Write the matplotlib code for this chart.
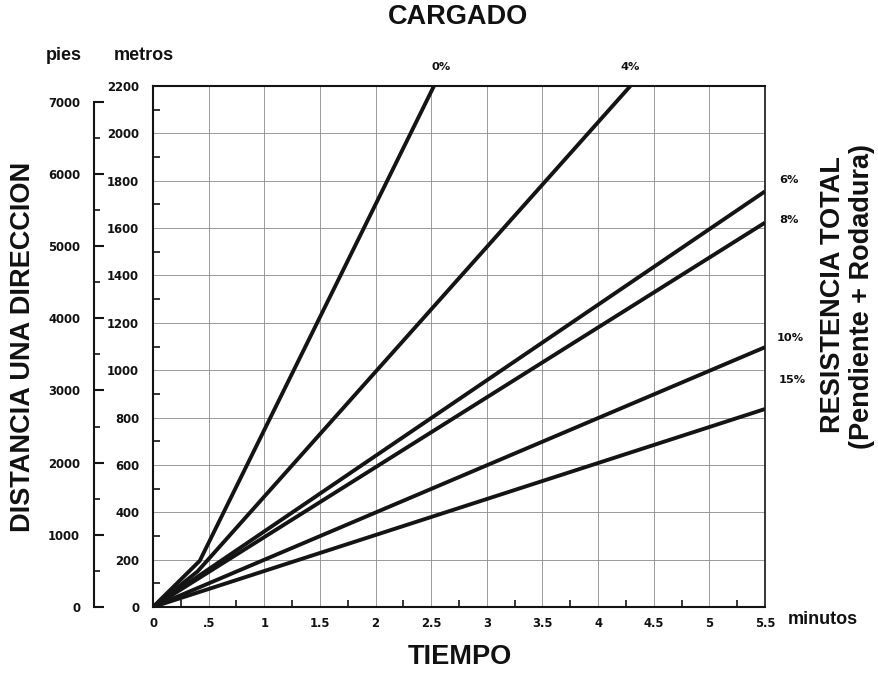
import matplotlib
matplotlib.use("Agg")
import matplotlib.pyplot as plt
from matplotlib.ticker import FixedLocator, FixedFormatter, MultipleLocator

# ---------------- data ----------------
grades = ["0%", "4%", "6%", "8%", "10%", "15%"]
# time (minutes) / distance (metres) points of each curve
t_0 = [0, 0.42, 2.525]
d_0 = [0, 195, 2200]
t_4 = [0, 0.40, 4.29]
d_4 = [0, 150, 2200]
t_6 = [0, 5.5]
d_6 = [0, 1755]
t_8 = [0, 5.5]
d_8 = [0, 1623]
t_10 = [0, 5.5]
d_10 = [0, 1097]
t_15 = [0, 5.5]
d_15 = [0, 836]

x_ticks = [0, 0.5, 1, 1.5, 2, 2.5, 3, 3.5, 4, 4.5, 5, 5.5]
x_tick_labels = ["0", ".5", "1", "1.5", "2", "2.5", "3", "3.5", "4", "4.5", "5", "5.5"]
m_ticks = [0, 200, 400, 600, 800, 1000, 1200, 1400, 1600, 1800, 2000, 2200]
ft_ticks = [0, 1000, 2000, 3000, 4000, 5000, 6000, 7000]

# ---------------- layout ----------------
W, H = 879, 674
fig = plt.figure(figsize=(W / 100, H / 100), dpi=100)


def fx(x):
    return x / W


def fy(y):
    return 1 - y / H


L, R, T, B = 153, 765, 86, 607
ax = fig.add_axes([fx(L), fy(B), (R - L) / W, (B - T) / H])
ax.set_xlim(0, 5.5)
ax.set_ylim(0, 2200)

lc = "#141414"
lw = 2.8
curves = [(t_0, d_0), (t_4, d_4), (t_6, d_6), (t_8, d_8), (t_10, d_10), (t_15, d_15)]
for t, d in curves:
    ax.plot(t, d, color=lc, lw=lw, solid_capstyle="butt", solid_joinstyle="round",
            clip_on=True, zorder=3)

# grid
for xv in x_ticks[1:-1]:
    ax.axvline(xv, color="#8a8a8a", lw=0.6, zorder=1)
for yv in m_ticks[1:-1]:
    ax.axhline(yv, color="#8a8a8a", lw=0.6, zorder=1)

# spines
for s in ["left", "bottom", "top"]:
    ax.spines[s].set_linewidth(1.5)
    ax.spines[s].set_color(lc)
ax.spines["right"].set_linewidth(1.2)
ax.spines["right"].set_color(lc)

ax.xaxis.set_major_locator(FixedLocator(x_ticks))
ax.xaxis.set_major_formatter(FixedFormatter(x_tick_labels))
ax.xaxis.set_minor_locator(MultipleLocator(0.25))
ax.yaxis.set_major_locator(FixedLocator(m_ticks))
ax.yaxis.set_minor_locator(MultipleLocator(100))
ax.tick_params(axis="x", which="major", direction="in", length=0, pad=7)
ax.tick_params(axis="x", which="minor", direction="in", length=5, width=1.2, color=lc)
ax.tick_params(axis="y", which="major", direction="in", length=0, pad=10)
ax.tick_params(axis="y", which="minor", direction="in", length=5, width=1.2, color=lc)
for lab in ax.get_xticklabels() + ax.get_yticklabels():
    lab.set_fontfamily("DejaVu Sans")
    lab.set_fontweight("bold")
    lab.set_fontsize(8.4)
    lab.set_color("#111111")

# feet axis
FT = 0.3048
axf = fig.add_axes([fx(94), fy(B), 0.0001, (B - T) / H])
axf.set_ylim(0, 2200 / FT)
axf.set_xticks([])
for s in ["right", "top", "bottom"]:
    axf.spines[s].set_visible(False)
axf.spines["left"].set_linewidth(1.5)
axf.spines["left"].set_color(lc)
axf.spines["left"].set_bounds(0, 7000)
axf.yaxis.set_major_locator(FixedLocator(ft_ticks))
axf.yaxis.set_minor_locator(FixedLocator([v + 500 for v in ft_ticks[:-1]]))
axf.tick_params(axis="y", which="major", direction="in", length=7, width=1.5, color=lc, pad=10)
axf.tick_params(axis="y", which="minor", direction="in", length=4, width=1.2, color=lc)
for lab in axf.get_yticklabels():
    lab.set_fontfamily("DejaVu Sans")
    lab.set_fontweight("bold")
    lab.set_fontsize(8.4)
    lab.set_color("#111111")
axf.patch.set_visible(False)

# grade labels
grade_pos = [(441, 67), (630, 67), (789, 180), (789, 220), (790, 338), (792, 380)]
for g, (px, py) in zip(grades, grade_pos):
    fig.text(fx(px), fy(py), g, ha="center", va="center",
             family="DejaVu Sans", weight="bold", size=8.2, color="#111111")

big = dict(family="Liberation Sans", weight="bold", size=19.5, color="#111111")
fig.text(fx(458), fy(17), "CARGADO", ha="center", va="center", **big)
fig.text(fx(460), fy(657), "TIEMPO", ha="center", va="center", **big)
fig.text(fx(23), fy(347), "DISTANCIA UNA DIRECCION", ha="center", va="center", rotation=90, **big)
fig.text(fx(833), fy(295), "RESISTENCIA TOTAL", ha="center", va="center", rotation=90, **big)
fig.text(fx(862), fy(297), "(Pendiente + Rodadura)", ha="center", va="center", rotation=90, **big)

small = dict(family="Liberation Sans", weight="bold", size=13, color="#111111")
fig.text(fx(64), fy(55), "pies", ha="center", va="center", **small)
fig.text(fx(144), fy(55), "metros", ha="center", va="center", **small)
fig.text(fx(823), fy(619), "minutos", ha="center", va="center", **small)

fig.savefig("out.png", dpi=100)
